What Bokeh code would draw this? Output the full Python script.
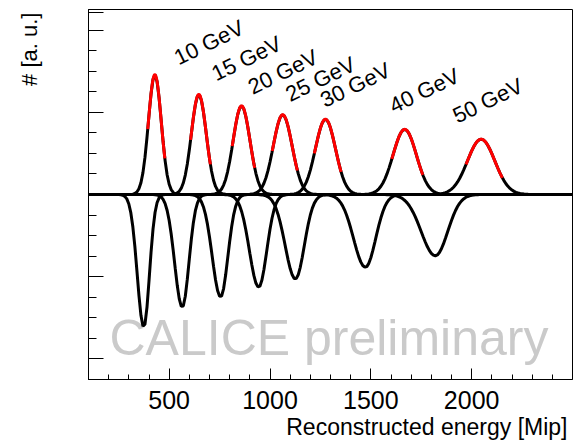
import math
import numpy as np
from bokeh.plotting import figure
from bokeh.models import FixedTicker, Title
from bokeh.core.properties import value
from bokeh.embed import file_html
from bokeh.resources import INLINE

# ---- data ----
beam_labels = ["10 GeV", "15 GeV", "20 GeV", "25 GeV", "30 GeV", "40 GeV", "50 GeV"]
# upper (positive) distributions with gaussian fits
up_mean = [429, 647, 859, 1063, 1275, 1668, 2047]
up_sigma = [32, 37, 42, 47, 50, 58, 68]
up_amp = [0.0583, 0.0487, 0.0431, 0.0388, 0.0366, 0.0317, 0.0269]
# lower (mirrored) distributions
low_mean = [374, 565, 755, 944, 1126, 1473, 1820]
low_sigma = [28, 33, 36, 40, 44, 51, 61]
low_amp = [0.0646, 0.0549, 0.0499, 0.0451, 0.0411, 0.0354, 0.0298]
low_tail = 1.15  # left-side width factor of lower distributions
# label anchors (data coordinates)
label_x = [531, 717, 898, 1084, 1257, 1599, 1914]
label_y = [0.0660, 0.0582, 0.0517, 0.0482, 0.0453, 0.0426, 0.0377]
fit_lo, fit_hi = 1.1, 1.55  # fit range in sigma units

x_ticks = [500, 1000, 1500, 2000]
x_minor = list(range(200, 2500, 100))
y_ticks = [-0.08, -0.04, 0.0, 0.04, 0.08]
y_minor = [round(-0.09 + 0.01 * i, 3) for i in range(19)]
y_title_pos = 0.0885

FONT = "Liberation Sans"

p = figure(frame_width=484, frame_height=370, x_range=(100, 2500), y_range=(-0.09, 0.09),
           output_backend="svg", toolbar_location=None,
           min_border_left=88, min_border_right=2, min_border_top=9, min_border_bottom=62)
p.xgrid.visible = False
p.ygrid.visible = False
p.outline_line_color = "black"
p.outline_line_alpha = 1.0
p.outline_line_width = 1
p.background_fill_color = "white"
p.border_fill_color = "white"

xa = p.xaxis[0]
xa.ticker = FixedTicker(ticks=x_ticks, minor_ticks=x_minor)
xa.major_tick_in = 11
xa.major_tick_out = 0
xa.minor_tick_in = 5
xa.minor_tick_out = 0
xa.axis_line_color = "black"
xa.major_tick_line_color = "black"
xa.minor_tick_line_color = "black"
xa.major_label_text_font = FONT
xa.major_label_text_font_size = "25px"
xa.major_label_text_color = "black"
xa.major_label_standoff = 11

# y axis: unlabeled ticks, plus the axis title as the single label at the top
ya = p.yaxis[0]
ya.ticker = FixedTicker(ticks=y_ticks + [y_title_pos], minor_ticks=y_minor)
overrides = {t: "" for t in y_ticks}
overrides[y_title_pos] = "# [a. u.]"
ya.major_label_overrides = overrides
ya.major_label_orientation = math.pi / 2
ya.major_tick_in = 15
ya.major_tick_out = 0
ya.minor_tick_in = 8
ya.minor_tick_out = 0
ya.axis_line_color = "black"
ya.major_tick_line_color = "black"
ya.minor_tick_line_color = "black"
ya.major_label_text_font = FONT
ya.major_label_text_font_size = "22px"
ya.major_label_text_color = "black"
ya.major_label_standoff = 59

# x title, right aligned
p.add_layout(Title(text="Reconstructed energy [Mip]", align="right", offset=5,
                   standoff=0, text_font=FONT, text_font_size="23px",
                   text_font_style="normal", text_color="black"), "below")

# watermark (below the curves)
p.text(x=[204], y=[-0.0700], text=["CALICE preliminary"], text_font=value(FONT),
       text_font_size="50px", text_color="#cacaca", text_align="left",
       text_baseline="alphabetic")

xs = np.arange(100, 2505, 10.0)


def curve(mu, sig, amp, tail):
    s = np.where(xs < mu, sig * tail, sig)
    return amp * np.exp(-0.5 * ((xs - mu) / s) ** 2)


for mu, sig, amp in zip(up_mean, up_sigma, up_amp):
    p.line(xs, curve(mu, sig, amp, 1.0), line_color="black", line_width=3)
for mu, sig, amp in zip(low_mean, low_sigma, low_amp):
    p.line(xs, -curve(mu, sig, amp, low_tail), line_color="black", line_width=3)

for mu, sig, amp in zip(up_mean, up_sigma, up_amp):
    fx = np.linspace(mu - fit_lo * sig, mu + fit_hi * sig, 60)
    fy = amp * np.exp(-0.5 * ((fx - mu) / sig) ** 2)
    p.line(fx, fy, line_color="red", line_width=3)

p.text(x=label_x, y=label_y, text=beam_labels, angle=math.radians(26),
       text_font=value(FONT), text_font_size="22px", text_color="black",
       text_align="left", text_baseline="alphabetic")

open("out.html", "w").write(file_html(p, INLINE))
